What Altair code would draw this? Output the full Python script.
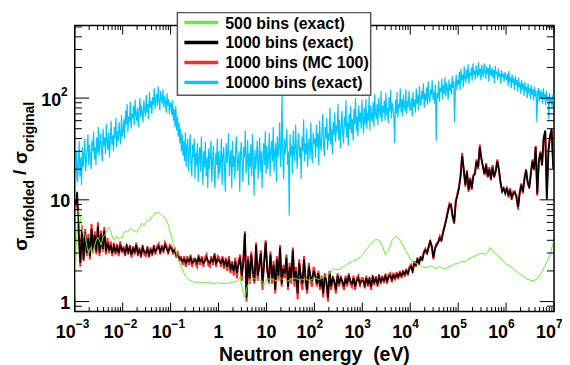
import altair as alt
import pandas as pd

# ---------------- data ----------------
DEC_START = -3          # first decade of the log-uniform binning
BINS_PER_DEC = 30       # samples per decade for the 1000-bin series

# 10000 bins (exact): one list per decade, 1e-3 ... 1e7
cyan_10000 = [
    [10, 18, 30, 15, 22, 38, 17, 26, 14, 33, 21, 28, 40, 19, 24, 31, 44, 22, 35, 27, 20, 38, 30, 47, 25, 33, 22, 41, 29, 52,
     27, 36, 45, 30, 24, 50, 34, 41, 28, 56, 37, 31, 46, 26, 39, 60, 35, 43, 30, 52, 40, 64, 33, 47, 38, 58, 44, 35, 68, 42],
    [48, 62, 40, 75, 55, 88, 46, 66, 58, 92, 50, 70, 63, 84, 54, 97, 68, 60, 80, 52, 74, 100, 64, 85, 70, 58, 95, 76, 66, 108,
     72, 88, 62, 115, 80, 94, 70, 102, 86, 125, 78, 96, 110, 84, 130, 92, 76, 118, 100, 88, 122, 80, 105, 94, 72, 112, 85, 98, 70, 90],
    [88, 68, 95, 60, 78, 52, 84, 48, 66, 42, 58, 36, 50, 30, 44, 27, 38, 24, 46, 21, 33, 40, 19, 30, 44, 23, 17, 35, 26, 40,
     16, 29, 22, 36, 15, 27, 33, 19, 42, 24, 14, 30, 21, 37, 17, 26, 13, 32, 20, 28, 38, 15, 24, 34, 18, 13, 29, 22, 40, 16],
    [30, 18, 24, 40, 14, 27, 33, 20, 12, 36, 23, 29, 45, 17, 25, 31, 13, 38, 21, 27, 16, 34, 42, 19, 24, 30, 12, 28, 37, 22,
     15, 33, 26, 48, 18, 23, 39, 14, 29, 21, 35, 17, 44, 25, 11, 31, 20, 27, 38, 16, 24, 41, 19, 30, 13, 26, 36, 22, 47, 18],
    [34, 20, 27, 45, 17, 30, 38, 24, 52, 19, 29, 36, 15, 42, 26, 33, 58, 21, 31, 112, 25, 16, 40, 28, 35, 50, 22, 30, 7, 44,
     27, 34, 18, 48, 29, 24, 55, 31, 20, 38, 45, 26, 33, 16, 42, 30, 62, 24, 36, 28, 50, 21, 34, 40, 25, 58, 30, 23, 46, 35],
    [40, 26, 55, 33, 45, 22, 60, 36, 30, 48, 70, 34, 27, 52, 40, 64, 31, 45, 38, 80, 35, 50, 28, 58, 43, 72, 37, 54, 46, 88,
     39, 61, 32, 50, 75, 44, 36, 66, 52, 95, 41, 58, 34, 70, 49, 84, 45, 62, 38, 78, 55, 100, 47, 66, 42, 85, 58, 72, 50, 96],
    [62, 45, 80, 55, 98, 50, 72, 60, 105, 48, 85, 66, 58, 92, 52, 110, 70, 62, 88, 54, 100, 75, 64, 118, 58, 84, 72, 95, 60, 112,
     68, 80, 57, 102, 74, 120, 63, 90, 78, 66, 36, 96, 70, 115, 64, 88, 80, 125, 72, 98, 66, 108, 84, 74, 122, 70, 94, 82, 118, 76],
    [78, 100, 66, 115, 82, 96, 72, 124, 88, 108, 76, 132, 92, 84, 118, 98, 140, 80, 110, 94, 128, 86, 146, 102, 90, 122, 108, 150, 96, 116,
     88, 136, 38, 112, 100, 148, 92, 126, 115, 155, 98, 134, 110, 160, 104, 142, 124, 96, 152, 118, 138, 108, 165, 126, 146, 58, 132, 170, 120, 150],
    [135, 180, 120, 195, 150, 170, 128, 205, 160, 142, 190, 155, 215, 138, 178, 165, 200, 148, 220, 170, 185, 152, 210, 175, 160, 225, 168, 195, 150, 212,
     178, 162, 220, 185, 155, 205, 172, 198, 145, 215, 180, 165, 200, 158, 190, 140, 208, 170, 182, 150, 196, 162, 175, 138, 188, 160, 172, 145, 180, 158],
    [150, 175, 130, 185, 145, 160, 125, 170, 140, 155, 120, 165, 135, 150, 115, 160, 128, 142, 110, 150, 122, 138, 105, 145, 118, 130, 100, 140, 112, 125,
     98, 135, 108, 122, 95, 130, 104, 118, 58, 112, 126, 92, 120, 100, 115, 88, 125, 96, 110, 85, 118, 94, 104, 62, 112, 90, 100, 82, 108, 88],
]

# 1000 bins (exact)
black_1000 = [
    9.0, 12.0, 4.5, 2.4, 5.0, 2.6, 4.8, 3.0, 4.2, 2.8, 5.2, 3.2, 4.5, 3.1, 5.5, 3.0, 4.6, 3.3, 5.0, 3.1, 3.8, 3.2, 3.6, 3.0, 3.5, 3.1, 3.4, 3.0, 3.6, 3.2,
    3.3, 3.0, 3.5, 3.1, 3.4, 2.9, 3.3, 3.1, 3.6, 3.0, 3.2, 2.9, 3.4, 3.1, 3.0, 3.3, 2.9, 3.2, 3.0, 3.4, 3.1, 3.3, 3.5, 3.1, 3.4, 3.2, 3.6, 3.3, 3.1, 3.4,
    3.3, 3.1, 3.2, 2.9, 2.8, 2.7, 2.6, 2.5, 2.6, 2.4, 2.6, 2.5, 2.7, 2.4, 2.5, 2.6, 2.4, 2.7, 2.5, 2.6, 2.4, 2.5, 2.7, 2.5, 2.4, 2.6, 2.5, 2.8, 2.4, 2.6,
    2.5, 2.4, 2.6, 2.3, 2.5, 2.2, 2.6, 2.1, 2.3, 2.0, 2.5, 1.9, 2.3, 2.7, 1.8, 2.4, 4.7, 1.1, 2.6, 1.7, 2.9, 2.0, 1.6, 3.6, 1.8, 2.2, 3.0, 1.5, 2.3, 3.8,
    2.0, 1.6, 2.9, 1.7, 2.3, 1.3, 2.6, 1.8, 3.4, 1.5, 2.1, 1.9, 2.7, 1.4, 2.2, 1.7, 3.2, 1.6, 2.0, 1.2, 2.4, 1.8, 1.5, 2.6, 1.7, 1.3, 2.2, 1.8, 1.6, 2.0,
    1.8, 1.5, 1.9, 1.4, 1.7, 1.2, 1.8, 1.6, 1.1, 1.9, 1.4, 1.7, 1.6, 1.3, 1.8, 1.5, 1.7, 1.6, 1.4, 1.7, 1.5, 1.8, 1.6, 1.5, 1.7, 1.4, 1.6, 1.7, 1.5, 1.6,
    1.6, 1.45, 1.7, 1.5, 1.65, 1.4, 1.72, 1.55, 1.68, 1.5, 1.75, 1.58, 1.7, 1.62, 1.78, 1.6, 1.74, 1.8, 1.65, 1.82, 1.72, 1.85, 1.76, 1.9, 1.8, 1.95, 1.85, 2.0, 1.9, 2.1,
    2.2, 2.0, 2.4, 2.3, 2.6, 2.4, 2.7, 2.6, 3.0, 3.2, 3.0, 3.4, 3.9, 3.5, 2.7, 3.3, 3.6, 3.8, 4.2, 4.0, 4.7, 5.4, 6.3, 7.5, 8.8, 9.0, 7.0, 6.0, 9.5, 11.0,
    13, 17, 27, 20, 14, 19, 12.5, 16, 13, 17, 18, 24, 21, 33, 26, 21, 18, 22, 17, 20, 16, 21, 17, 19, 24, 20, 15, 12, 13, 11.5,
    13, 11, 12.5, 10.5, 11.5, 12, 10.5, 8.5, 11.5, 14, 12, 16, 19.5, 15, 13, 18, 24, 20, 33, 11.5, 24, 29, 22, 40, 48, 10, 30, 42, 50, 20,
]

# 1000 bins (MC 100)
red_1000mc = [
    8.5, 10.5, 5.0, 2.2, 5.6, 2.5, 5.2, 2.8, 4.6, 2.6, 5.8, 3.0, 4.9, 2.9, 6.0, 2.8, 5.0, 3.1, 5.4, 2.9, 4.2, 3.0, 3.9, 2.8, 3.8, 2.9, 3.7, 2.8, 3.9, 3.0,
    3.5, 2.8, 3.7, 2.9, 3.6, 2.7, 3.5, 2.9, 3.8, 2.8, 3.4, 2.7, 3.6, 2.9, 2.8, 3.5, 2.7, 3.4, 2.8, 3.6, 2.9, 3.5, 3.7, 2.9, 3.6, 3.0, 3.8, 3.5, 2.9, 3.6,
    3.5, 2.9, 3.4, 2.7, 3.0, 2.5, 2.8, 2.3, 2.8, 2.2, 2.8, 2.3, 2.9, 2.2, 2.7, 2.4, 2.2, 2.9, 2.3, 2.8, 2.2, 2.7, 2.9, 2.3, 2.2, 2.8, 2.3, 3.0, 2.2, 2.8,
    2.7, 2.2, 2.8, 2.1, 2.7, 2.0, 2.8, 1.9, 2.5, 1.8, 2.7, 1.7, 2.5, 2.9, 1.6, 2.6, 4.9, 1.0, 2.8, 1.5, 3.1, 1.8, 1.5, 3.8, 1.6, 2.4, 3.2, 1.3, 2.5, 4.0,
    2.2, 1.5, 3.1, 1.5, 2.5, 1.2, 2.8, 1.6, 3.6, 1.4, 2.3, 1.7, 2.9, 1.3, 2.4, 1.5, 3.4, 1.4, 2.2, 1.05, 2.6, 1.6, 1.3, 2.8, 1.5, 1.2, 2.4, 1.6, 1.4, 2.2,
    1.9, 1.4, 2.0, 1.3, 1.8, 1.1, 1.9, 1.5, 1.0, 2.0, 1.3, 1.8, 1.5, 1.2, 1.9, 1.4, 1.8, 1.5, 1.3, 1.8, 1.4, 1.9, 1.5, 1.4, 1.8, 1.3, 1.7, 1.8, 1.4, 1.7,
    1.7, 1.35, 1.8, 1.4, 1.75, 1.3, 1.82, 1.45, 1.78, 1.4, 1.85, 1.48, 1.8, 1.52, 1.88, 1.5, 1.84, 1.9, 1.55, 1.92, 1.62, 1.95, 1.66, 2.0, 1.7, 2.05, 1.75, 2.1, 1.8, 2.2,
    2.3, 1.9, 2.5, 2.2, 2.7, 2.3, 2.8, 2.5, 3.1, 3.3, 2.9, 3.5, 4.0, 3.4, 2.6, 3.4, 3.7, 3.9, 4.4, 3.9, 4.9, 5.6, 6.5, 7.8, 9.2, 8.7, 6.8, 5.8, 9.8, 11.5,
    13.5, 17.5, 29, 19, 13.5, 19.5, 12, 16.5, 12.5, 17.5, 18.5, 25, 20, 35, 25, 21.5, 17.5, 23, 16.5, 21, 15.5, 22, 16.5, 19.5, 25, 19.5, 14.5, 12.5, 12.5, 12,
    13.5, 10.5, 13, 10, 12, 11.5, 11, 8, 12, 14.5, 11.5, 16.5, 20, 14.5, 13.5, 18.5, 25, 19.5, 34, 11, 24.5, 30, 21.5, 41, 47, 10.5, 31, 43, 48, 21,
]

# 500 bins (exact): log10(E) and value
green_logE = [
    -3.0, -2.97, -2.93, -2.9, -2.86, -2.82, -2.79, -2.75, -2.71, -2.67, -2.63, -2.59, -2.55, -2.52, -2.48, -2.45,
    -2.41, -2.37, -2.33, -2.29, -2.25, -2.21, -2.17, -2.13, -2.09, -2.05, -2.02, -1.98, -1.94, -1.9, -1.86, -1.82,
    -1.78, -1.74, -1.71, -1.67, -1.63, -1.6, -1.56, -1.52, -1.48, -1.44, -1.4, -1.36, -1.32, -1.28, -1.24, -1.2,
    -1.16, -1.12, -1.08, -1.04, -1.0, -0.96, -0.92, -0.88, -0.84, -0.8, -0.75, -0.7, -0.65, -0.6, -0.55, -0.5,
    -0.4, -0.3, -0.2, -0.1, 0.0, 0.1, 0.2, 0.3, 0.4, 0.45, 0.5, 0.55, 0.6, 0.65, 0.7, 0.8, 0.9, 0.95,
    1.0, 1.1, 1.2, 1.3, 1.4, 1.5, 1.6, 1.7, 1.8, 1.9, 2.0, 2.1, 2.2, 2.3, 2.4, 2.5, 2.6, 2.7, 2.8, 2.9,
    3.0, 3.1, 3.2, 3.28, 3.35, 3.42, 3.48, 3.55, 3.62, 3.69, 3.76, 3.83, 3.9, 3.97, 4.03, 4.1, 4.17, 4.24,
    4.31, 4.38, 4.45, 4.52, 4.6, 4.66, 4.73, 4.8, 4.86, 4.93, 5.0, 5.07, 5.15, 5.2, 5.27, 5.35, 5.42, 5.5,
    5.56, 5.62, 5.67, 5.73, 5.8, 5.87, 5.94, 6.0, 6.1, 6.2, 6.3, 6.4, 6.5, 6.58, 6.65, 6.73, 6.8, 6.87, 6.93, 6.98,
]
green_500 = [
    1.1, 3.5, 7.8, 7.5, 5.5, 4.6, 4.7, 3.5, 3.0, 3.4, 2.9, 3.5, 4.0, 4.3, 3.9, 3.6,
    4.3, 4.5, 5.0, 5.4, 5.0, 4.2, 4.0, 4.4, 4.1, 4.3, 4.2, 4.7, 5.0, 4.8, 5.1, 5.2,
    5.0, 4.9, 4.8, 5.2, 5.5, 5.9, 5.6, 6.0, 6.3, 6.3, 6.8, 7.0, 7.6, 7.3, 7.5, 7.2,
    7.0, 6.6, 6.2, 5.5, 4.6, 4.0, 3.4, 3.0, 2.6, 2.3, 2.05, 1.8, 1.7, 1.62, 1.58, 1.55,
    1.55, 1.52, 1.55, 1.5, 1.53, 1.5, 1.52, 1.55, 1.6, 1.75, 1.3, 1.1, 1.4, 1.62, 1.7, 1.65, 1.6, 1.45,
    1.65, 1.68, 1.6, 1.7, 1.55, 1.65, 1.7, 1.62, 1.68, 1.6, 1.7, 1.65, 1.75, 1.85, 2.1, 2.05, 2.2, 2.35, 2.5, 2.6,
    2.9, 3.3, 3.8, 4.1, 4.0, 3.5, 2.9, 3.2, 4.0, 4.4, 4.2, 3.7, 3.2, 2.8, 2.5, 2.4, 2.3, 2.2,
    2.15, 2.2, 2.25, 2.1, 2.2, 2.15, 2.1, 2.2, 2.25, 2.35, 2.35, 2.5, 2.45, 2.6, 2.7, 2.8, 2.9, 3.0,
    2.9, 3.1, 3.4, 3.1, 2.9, 2.7, 2.5, 2.35, 2.2, 2.0, 1.85, 1.7, 1.62, 1.6, 1.68, 1.9, 2.2, 2.6, 3.0, 3.8,
]

SERIES = ["500 bins (exact)", "1000 bins (exact)", "1000 bins (MC 100)", "10000 bins (exact)"]
COLORS = ["#66ee33", "#000000", "#ff2b2b", "#00c8ff"]

X_TICK_EXP = [-3, -2, -1, 0, 1, 2, 3, 4, 5, 6, 7]
Y_TICK_EXP = [0, 1, 2]
MINOR_MULT = [2, 3, 4, 5, 6, 7, 8, 9]

# ---------------- helpers ----------------
FONT = "Liberation Sans"
W, H = 481, 287
xs = alt.Scale(type="log", domain=[1e-3, 1e7], nice=False)
ys = alt.Scale(type="log", domain=[0.798, 516], nice=False)


def binned(vals):
    return pd.DataFrame({
        "E": [10 ** (DEC_START + (i + 0.5) / BINS_PER_DEC) for i in range(len(vals))],
        "v": vals,
    })


def binned_by_decade(decades):
    E, v = [], []
    for d, vals in enumerate(decades):
        n = len(vals)
        for i, val in enumerate(vals):
            E.append(10 ** (DEC_START + d + (i + 0.5) / n))
            v.append(val)
    return pd.DataFrame({"E": E, "v": v})


def line(df, color, sw):
    return alt.Chart(df).mark_line(color=color, strokeWidth=sw, clip=True).encode(
        x=alt.X("E:Q", scale=xs, axis=None),
        y=alt.Y("v:Q", scale=ys, axis=None),
    )


one = pd.DataFrame({"a": [0]})

layers = []
layers.append(line(binned(red_1000mc), COLORS[2], 2.0))
layers.append(line(binned(black_1000), COLORS[1], 1.7))
layers.append(line(pd.DataFrame({"E": [10 ** e for e in green_logE], "v": green_500}), COLORS[0], 1.0))
layers.append(line(binned_by_decade(cyan_10000), COLORS[3], 1.2))

# ---------------- ticks (inside, on all four sides) ----------------
xmaj = [10.0 ** e for e in X_TICK_EXP]
xmin = [m * 10.0 ** e for e in X_TICK_EXP[:-1] for m in MINOR_MULT]
ymaj = [10.0 ** e for e in Y_TICK_EXP]
ymin = [0.9] + [m * 10.0 ** e for e in Y_TICK_EXP[:-1] for m in MINOR_MULT] + [m * 100.0 for m in MINOR_MULT if m * 100 < 516]


def xticks(vals, length, top):
    y0, y1 = (0, length) if top else (H, H - length)
    return alt.Chart(pd.DataFrame({"t": vals})).mark_rule(color="black", strokeWidth=1).encode(
        x=alt.X("t:Q", scale=xs, axis=None), y=alt.value(y0), y2=alt.value(y1))


def yticks(vals, length, right):
    x0, x1 = (W, W - length) if right else (0, length)
    return alt.Chart(pd.DataFrame({"t": vals})).mark_rule(color="black", strokeWidth=1).encode(
        y=alt.Y("t:Q", scale=ys, axis=None), x=alt.value(x0), x2=alt.value(x1))


for top in (False, True):
    layers.append(xticks(xmaj, 9, top))
    layers.append(xticks(xmin, 4.5, top))
for right in (False, True):
    layers.append(yticks(ymaj, 14.4, right))
    layers.append(yticks(ymin, 7.2, right))

# ---------------- tick labels ----------------
def sup(e):
    return str(e).replace("-", "\u2212")


xneg = pd.DataFrame({"t": [10.0 ** e for e in X_TICK_EXP if e < 0],
                     "b": ["10" for e in X_TICK_EXP if e < 0],
                     "s": [sup(e) for e in X_TICK_EXP if e < 0]})
xpos = pd.DataFrame({"t": [10.0 ** e for e in X_TICK_EXP if e > 1],
                     "b": ["10" for e in X_TICK_EXP if e > 1],
                     "s": [sup(e) for e in X_TICK_EXP if e > 1]})
xplain = pd.DataFrame({"t": [1.0, 10.0], "b": ["1", "10"]})

BASE_Y = 314
EXP_Y = 304


def xtext(df, field, align, dx, y, size):
    return alt.Chart(df).mark_text(font=FONT, fontWeight="bold", fontSize=size, align=align,
                                   baseline="alphabetic", dx=dx).encode(
        x=alt.X("t:Q", scale=xs, axis=None), y=alt.value(y), text=f"{field}:N")


layers += [
    xtext(xneg, "b", "right", 1, BASE_Y, 18), xtext(xneg, "s", "left", 1, EXP_Y, 12),
    xtext(xpos, "b", "right", 2, BASE_Y, 18), xtext(xpos, "s", "left", 2, EXP_Y, 12),
    xtext(xplain, "b", "center", 0, BASE_Y, 18),
]

yplain = pd.DataFrame({"t": [1.0, 10.0], "b": ["1", "10"]})
yexp = pd.DataFrame({"t": [100.0], "b": ["10"], "s": [sup(2)]})


def ytext(df, field, align, x, dy, size):
    return alt.Chart(df).mark_text(font=FONT, fontWeight="bold", fontSize=size, align=align,
                                   baseline="alphabetic", dy=dy).encode(
        y=alt.Y("t:Q", scale=ys, axis=None), x=alt.value(x), text=f"{field}:N")


layers += [
    ytext(yplain, "b", "right", -4.5, 7.5, 18),
    ytext(yexp, "b", "right", -13.7, 7.5, 18),
    ytext(yexp, "s", "left", -13.7, -2, 12),
]

# ---------------- axis titles ----------------
def label(text, x, y, size, angle=0, align="center", weight="bold"):
    return alt.Chart(one).mark_text(text=text, font=FONT, fontWeight=weight, fontSize=size,
                                    align=align, baseline="alphabetic", angle=angle).encode(
        x=alt.value(x), y=alt.value(y))


layers.append(label("Neutron energy\u00a0 (eV)", W / 2, 337, 19.5))
layers += [
    label("\u03c3", -48, 226, 19, 270, "left"),
    label("unfolded", -41, 214, 14, 270, "left"),
    label("/", -49, 150, 19, 270, "left"),
    label("\u03c3", -48, 139, 19, 270, "left"),
    label("original", -41, 127, 14, 270, "left"),
]

# ---------------- legend ----------------
layers.append(alt.Chart(one).mark_rect(fill="white", stroke="#555555", strokeWidth=1.5).encode(
    x=alt.value(103), x2=alt.value(297), y=alt.value(-13), y2=alt.value(70)))
for i, (name, col) in enumerate(zip(SERIES, COLORS)):
    cy = -3 + 20 * i
    layers.append(alt.Chart(one).mark_rule(color=col, strokeWidth=3.5).encode(
        x=alt.value(110), x2=alt.value(144), y=alt.value(cy)))
    layers.append(label(name, 151, cy + 6, 16, 0, "left"))

chart = alt.layer(*layers).properties(
    width=W, height=H,
    autosize=alt.AutoSizeParams(type="none"),
    padding={"left": 67, "top": 17, "right": 8, "bottom": 53},
    background="white",
).configure_view(stroke="black", strokeWidth=1.5)

chart.save("out.html", embed_options={"renderer": "svg", "actions": False})
